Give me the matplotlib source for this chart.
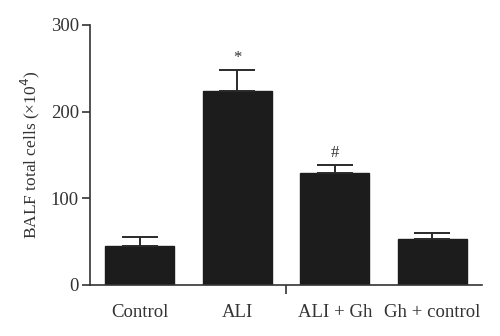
import matplotlib
matplotlib.use("Agg")
import matplotlib.pyplot as plt

groups = ["Control", "ALI", "ALI + Gh", "Gh + control"]
means = [45, 224, 129, 53]
sem = [10, 24, 9, 7]
marks = ["", "*", "#", ""]

plt.rcParams["font.family"] = ["Liberation Serif", "DejaVu Serif"]

fig = plt.figure(figsize=(5, 3.36), dpi=100)
ax = fig.add_axes([0.18, 0.152, 0.784, 0.774])

x = list(range(len(groups)))
ax.bar(x, means, width=0.71, color="#1c1c1c", edgecolor="#1c1c1c", zorder=2)
ax.errorbar(x, means, yerr=[[0] * len(sem), sem], fmt="none", ecolor="#2a2a2a",
            elinewidth=1.4, capsize=13, capthick=1.4, zorder=3)

for xi, m, e, s in zip(x, means, sem, marks):
    if s:
        ax.text(xi, m + e + 5, s, ha="center", va="bottom", fontsize=12, color="#333333")

ax.set_xlim(-0.51, 3.51)
ax.set_ylim(0, 300)
ax.set_yticks([0, 100, 200, 300])
ax.set_xticks(x)
ax.set_xticklabels(groups)
ax.set_xticks([1.5], minor=True)
ax.tick_params(axis="x", which="major", length=0, pad=14, labelsize=13.5, colors="#333333")
ax.tick_params(axis="x", which="minor", length=6.5, width=1.2, color="#333333")
ax.tick_params(axis="y", length=6, width=1.2, pad=2, labelsize=13.5, colors="#333333")
ax.set_ylabel("BALF total cells (×10$^4$)", fontsize=12.5, color="#333333", labelpad=6)

for side in ["top", "right"]:
    ax.spines[side].set_visible(False)
for side in ["left", "bottom"]:
    ax.spines[side].set_linewidth(1.2)
    ax.spines[side].set_color("#333333")

fig.savefig("out.png", dpi=100)
